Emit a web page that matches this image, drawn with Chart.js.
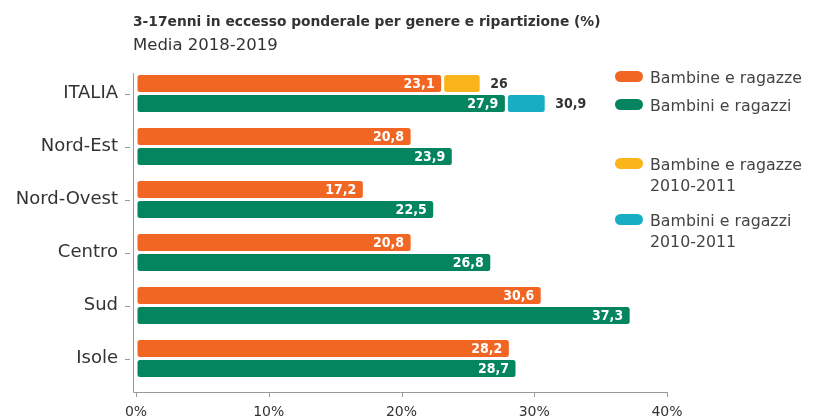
<!DOCTYPE html>
<html lang="it">
<head>
<meta charset="utf-8">
<title>3-17enni in eccesso ponderale</title>
<script src="https://cdn.jsdelivr.net/npm/chart.js@4.4.1/dist/chart.umd.min.js"></script>
<style>
  body { margin: 0; background: #fff; font-family: "DejaVu Sans", sans-serif; color: #333; }
  #wrap { position: relative; width: 820px; height: 420px; }
  #titolo { position: absolute; left: 133px; top: 12px; font-weight: bold; font-size: 13.8px; line-height: 18px; white-space: nowrap; }
  #sottotitolo { position: absolute; left: 133px; top: 35px; font-size: 16.5px; line-height: 20px; white-space: nowrap; }
  #legenda { position: absolute; left: 615px; top: 0; }
  .voce { position: absolute; left: 0; white-space: nowrap; }
  .voce i { position: absolute; left: 0; top: 4px; width: 28px; height: 11px; border-radius: 6px; }
  .voce span { position: absolute; left: 35px; top: 0; font-size: 15.8px; line-height: 21px; color: #444; }
  canvas { position: absolute; left: 0; top: 0; }
</style>
</head>
<body>
<div id="wrap">
  <canvas id="grafico" width="820" height="420"></canvas>
  <div id="titolo">3-17enni in eccesso ponderale per genere e ripartizione (%)</div>
  <div id="sottotitolo">Media 2018-2019</div>
  <div id="legenda"></div>
</div>
<script>
const ripartizioni = ["ITALIA", "Nord-Est", "Nord-Ovest", "Centro", "Sud", "Isole"];
const bambine = [23.1, 20.8, 17.2, 20.8, 30.6, 28.2];
const bambini = [27.9, 23.9, 22.5, 26.8, 37.3, 28.7];
const bambine2010 = [26, null, null, null, null, null];
const bambini2010 = [30.9, null, null, null, null, null];
const tickPercentuali = [0, 10, 20, 30, 40];

const ARANCIO = "#f26624", VERDE = "#048560", GIALLO = "#fbb41a", AZZURRO = "#17aec4";

// la barra 2010-2011 parte dove finisce quella 2018-2019
const estensione = (base, vecchio) => vecchio.map((v, i) => v == null ? null : [base[i], v]);

const virgola = v => String(v).replace(".", ",");

const stileBarre = { borderWidth: 1.5, borderColor: "#fff", borderRadius: 4, borderSkipped: false };

const datasets = [
  { label: ["Bambine e ragazze"], data: bambine, backgroundColor: ARANCIO, stack: "f", dentro: true, ...stileBarre },
  { label: ["Bambine e ragazze", "2010-2011"], data: estensione(bambine, bambine2010), backgroundColor: GIALLO, stack: "f", ...stileBarre },
  { label: ["Bambini e ragazzi"], data: bambini, backgroundColor: VERDE, stack: "m", dentro: true, ...stileBarre },
  { label: ["Bambini e ragazzi", "2010-2011"], data: estensione(bambini, bambini2010), backgroundColor: AZZURRO, stack: "m", ...stileBarre }
];

// assi disegnati a mano: la linea orizzontale sta qualche pixel sotto l'ultima categoria
const assi = {
  id: "assi",
  afterDraw(chart) {
    const { ctx, chartArea: a, scales: { x, y } } = chart;
    const x0 = a.left - 3, yBase = a.bottom + 7;
    ctx.save();
    ctx.strokeStyle = "#9a9a9a";
    ctx.lineWidth = 1;
    ctx.beginPath();
    ctx.moveTo(x0 + 0.5, a.top + 6);
    ctx.lineTo(x0 + 0.5, yBase + 0.5);
    ctx.lineTo(a.right, yBase + 0.5);
    tickPercentuali.forEach(t => {
      const px = Math.round(x.getPixelForValue(t)) + 0.5;
      ctx.moveTo(px, yBase);
      ctx.lineTo(px, yBase + 5);
    });
    ripartizioni.forEach((r, i) => {
      const py = Math.round(y.getPixelForValue(i)) + 0.5;
      ctx.moveTo(x0 - 8, py);
      ctx.lineTo(x0 - 3, py);
    });
    ctx.stroke();
    ctx.restore();
  }
};

const etichette = {
  id: "etichette",
  afterDatasetsDraw(chart) {
    const { ctx } = chart;
    ctx.save();
    ctx.font = "bold 14px 'DejaVu Sans Condensed', 'DejaVu Sans', sans-serif";
    ctx.textBaseline = "middle";
    chart.data.datasets.forEach((ds, di) => {
      chart.getDatasetMeta(di).data.forEach((bar, i) => {
        const v = ds.data[i];
        if (v == null) return;
        if (ds.dentro) {
          ctx.fillStyle = "#fff";
          ctx.textAlign = "right";
          ctx.fillText(virgola(v), bar.x - 8, bar.y + 1);
        } else {
          ctx.fillStyle = "#333";
          ctx.textAlign = "left";
          ctx.fillText(virgola(v[1]), bar.x + 9, bar.y + 1);
        }
      });
    });
    ctx.restore();
  }
};

const grafico = new Chart(document.getElementById("grafico"), {
  type: "bar",
  data: { labels: ripartizioni, datasets },
  options: {
    indexAxis: "y",
    responsive: false,
    animation: false,
    devicePixelRatio: 1,
    categoryPercentage: 0.755,
    barPercentage: 1,
    layout: { padding: { top: 67, right: 153, bottom: 0, left: 0 } },
    plugins: { legend: { display: false }, tooltip: { enabled: false } },
    scales: {
      y: {
        stacked: true,
        offset: true,
        grid: { display: false, drawTicks: false },
        border: { display: false },
        ticks: { color: "#333", padding: 18, font: { family: "DejaVu Sans", size: 18 } },
        afterFit(s) { s.width = 136; }
      },
      x: {
        stacked: false,
        min: 0,
        max: 40,
        grid: { display: false, drawTicks: false },
        border: { display: false },
        afterBuildTicks(s) { s.ticks = tickPercentuali.map(v => ({ value: v })); },
        ticks: { color: "#333", padding: 19, font: { family: "DejaVu Sans", size: 14 }, callback: v => v + "%" },
        afterFit(s) { s.height = 35; }
      }
    }
  },
  plugins: [assi, etichette]
});

// legenda a destra: prima le due serie 2018-2019, poi quelle 2010-2011
const ordineLegenda = [0, 2, 1, 3];
const posizioniLegenda = [67, 95, 154, 210];
const legenda = document.getElementById("legenda");
ordineLegenda.forEach((di, k) => {
  const ds = grafico.data.datasets[di];
  const voce = document.createElement("div");
  voce.className = "voce";
  voce.style.top = posizioniLegenda[k] + "px";
  voce.innerHTML = '<i style="background:' + ds.backgroundColor + '"></i><span>' + ds.label.join("<br>") + "</span>";
  legenda.appendChild(voce);
});
</script>
</body>
</html>
